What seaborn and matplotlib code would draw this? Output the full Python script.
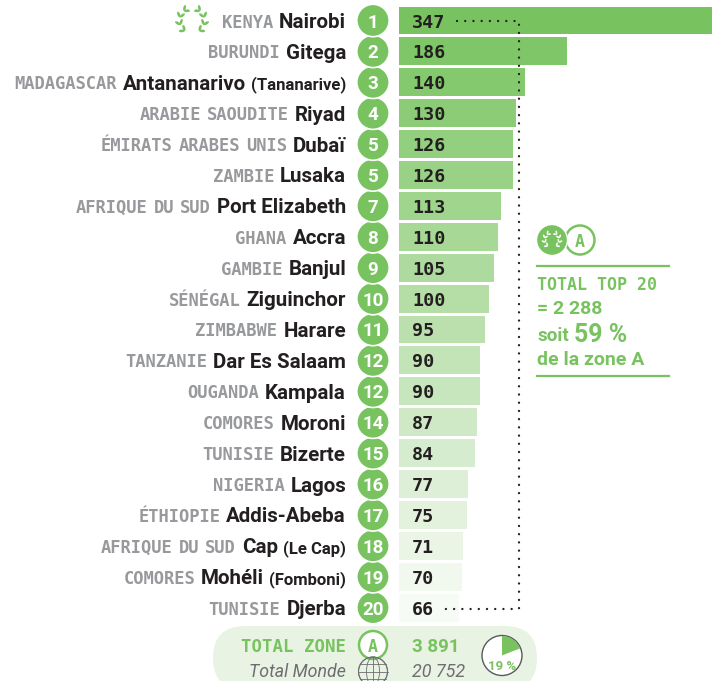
import pandas as pd
import seaborn as sns
import matplotlib.pyplot as plt
from matplotlib.patches import Circle, Ellipse, FancyBboxPatch, Wedge
import math

countries = ['KENYA', 'BURUNDI', 'MADAGASCAR', 'ARABIE SAOUDITE', 'ÉMIRATS ARABES UNIS', 'ZAMBIE',
             'AFRIQUE DU SUD', 'GHANA', 'GAMBIE', 'SÉNÉGAL', 'ZIMBABWE', 'TANZANIE', 'OUGANDA',
             'COMORES', 'TUNISIE', 'NIGERIA', 'ÉTHIOPIE', 'AFRIQUE DU SUD', 'COMORES', 'TUNISIE']
cities = ['Nairobi', 'Gitega', 'Antananarivo', 'Riyad', 'Dubaï', 'Lusaka', 'Port Elizabeth', 'Accra',
          'Banjul', 'Ziguinchor', 'Harare', 'Dar Es Salaam', 'Kampala', 'Moroni', 'Bizerte', 'Lagos',
          'Addis-Abeba', 'Cap', 'Mohéli', 'Djerba']
notes = {'Antananarivo': '(Tananarive)', 'Cap': '(Le Cap)', 'Mohéli': '(Fomboni)'}
values = [347, 186, 140, 130, 126, 126, 113, 110, 105, 100, 95, 90, 90, 87, 84, 77, 75, 71, 70, 66]
ranks = [1, 2, 3, 4, 5, 5, 7, 8, 9, 10, 11, 12, 12, 14, 15, 16, 17, 18, 19, 20]
total_zone = '3 891'
total_world = '20 752'
world_share = 19

GREEN = '#78c35f'
DARK = '#231f20'
GREY = '#98999c'
W, H = 712, 681
ROW0, ROW_H = 20.5, 30.9
SANS = 'Roboto'
MONO = 'DejaVu Sans Mono'


def row_y(i):
    return ROW0 + ROW_H * i


def draw_laurel(ax, cx, cy, r, color, leaf=6.0):
    # two branches going up from the bottom, one pair of leaves per step
    for side in (-1, 1):
        for deg in (35, 70, 105, 140):
            a = math.radians(deg)
            x = cx + side * r * math.sin(a)
            y = cy + r * math.cos(a)
            tangent = math.atan2(-math.sin(a), side * math.cos(a))
            for off in (-38, 38):
                d = tangent + math.radians(off)
                ax.add_patch(Ellipse((x + math.cos(d) * leaf / 2, y + math.sin(d) * leaf / 2),
                                     leaf, leaf * 0.45, angle=math.degrees(d),
                                     color=color, lw=0, zorder=6))


def draw_globe(ax, cx, cy, r):
    ec = '#6d6e71'
    ax.add_patch(Circle((cx, cy), r, fc='none', ec=ec, lw=0.8, zorder=5))
    for k in (0.45, 1.0):
        ax.add_patch(Ellipse((cx, cy), 2 * r * k, 2 * r, fc='none', ec=ec, lw=0.6, zorder=5))
    for d in (-0.5, 0, 0.5):
        half = r * math.sqrt(1 - d * d)
        ax.plot([cx - half, cx + half], [cy + d * r] * 2, color=ec, lw=0.6, zorder=5)
    ax.plot([cx, cx], [cy - r, cy + r], color=ec, lw=0.6, zorder=5)


fig = plt.figure(figsize=(W / 100, H / 100), dpi=100)
top = row_y(0) - ROW_H / 2
bottom = row_y(19) + ROW_H / 2
ax = fig.add_axes([399 / W, 1 - bottom / H, 313 / W, (bottom - top) / H])

df = pd.DataFrame({'city': cities, 'value': values})
colors = sns.blend_palette([GREEN, '#f7fbf5'], len(values))
sns.barplot(data=df, x='value', y='city', hue='city', palette=colors, legend=False,
            width=0.9, saturation=1, ax=ax)
ax.set_xlim(0, 347)
ax.set_axis_off()

ov = fig.add_axes([0, 0, 1, 1], zorder=3)
ov.set_xlim(0, W)
ov.set_ylim(H, 0)
ov.set_axis_off()
ov.patch.set_alpha(0)
renderer = fig.canvas.get_renderer()


def put_left_of(x, y, s, **kw):
    t = ov.text(x, y, s, ha='right', va='center_baseline', **kw)
    return x - t.get_window_extent(renderer).width


for i, city in enumerate(cities):
    y = row_y(i)
    x = 346
    if city in notes:
        x = put_left_of(x, y + 0.5, notes[city], family=SANS, weight='bold', size=12, color=DARK) - 5
    x = put_left_of(x, y, city, family=SANS, weight='bold', size=14.8, color=DARK) - 6
    # mono spaces are too wide, so the words of a country go one by one
    for word in reversed(countries[i].split(' ')):
        x = put_left_of(x, y, word, family=MONO, weight='bold', size=12.3, color=GREY) - 6
    ov.add_patch(Circle((373, y), 16.2, fc=GREEN, ec='white', lw=1.2, zorder=4 + (20 - i) * 0.01))
    ov.text(373, y, str(ranks[i]), ha='center', va='center_baseline', family=SANS, weight='bold',
            size=13.5, color='white', zorder=5)
    ov.text(412, y, str(values[i]), ha='left', va='center_baseline', family=MONO, weight='bold',
            size=13.2, color=DARK, zorder=5)

draw_laurel(ov, 192, 20.5, 12.5, GREEN)

# dotted bracket
ov.plot([457, 519, 519, 445], [row_y(0), row_y(0), row_y(19) + 1, row_y(19) + 1], color=DARK, lw=1.7,
        ls=(0, (0.01, 3.47)), dash_capstyle='round', zorder=5)

# right box
ov.add_patch(Circle((580, 240), 14.5, fc='white', ec=GREEN, lw=1.8, zorder=4))
ov.text(580, 240, 'A', ha='center', va='center_baseline', family=MONO, weight='bold', size=12,
        color=GREEN, zorder=5)
ov.add_patch(Circle((552, 240), 15.5, fc=GREEN, ec='white', lw=1, zorder=5))
draw_laurel(ov, 552, 240, 7.5, 'white', leaf=3.8)
ov.plot([537, 669], [266, 266], color=GREEN, lw=1.6)
ov.plot([537, 669], [376, 376], color=GREEN, lw=1.6)
ov.text(537, 283, 'TOTAL TOP 20', size=12, ha='left', va='center_baseline', family=MONO, weight='bold',
        color=GREEN)
ov.text(537, 307, '= 2 288', size=14, ha='left', va='center_baseline', family=SANS, weight='bold', color=GREEN)
t = ov.text(537, 334, 'soit', family=SANS, weight='bold', size=13.5, color=GREEN, ha='left', va='center_baseline')
ov.text(537 + t.get_window_extent(renderer).width + 5, 333, '59 %', family=SANS, weight='bold', size=18,
        color=GREEN, ha='left', va='center_baseline')
ov.text(537, 358, 'de la zone A', family=SANS, weight='bold', size=14, color=GREEN, ha='left',
        va='center_baseline')

# total pill
ov.add_patch(FancyBboxPatch((213, 626), 324, 64, boxstyle='round,pad=0,rounding_size=32',
                            fc='#e9f3e4', ec='none', zorder=1))
put_left_of(346, 645, 'TOTAL ZONE', family=MONO, weight='bold', size=12.5, color=GREEN)
put_left_of(346, 670, 'Total Monde', family=SANS, style='italic', size=12.8, color='#6d6e71')
ov.add_patch(Circle((373, 645), 14, fc='white', ec=GREEN, lw=1.8, zorder=4))
ov.text(373, 645, 'A', ha='center', va='center_baseline', family=MONO, weight='bold', size=12, color=GREEN, zorder=5)
draw_globe(ov, 373, 671.5, 14.5)
ov.text(412, 645, total_zone, ha='left', va='center_baseline', family=SANS, weight='bold', size=13.5, color=GREEN)
ov.text(412, 670, total_world, ha='left', va='center_baseline', family=SANS, style='italic', size=13, color='#6d6e71')

# share pie
ov.add_patch(Circle((502, 655.5), 20, fc='white', ec='#58595b', lw=1, zorder=3))
ov.add_patch(Wedge((502, 655.5), 19.5, -90, -90 + world_share * 3.6, fc=GREEN, ec='none', zorder=4))
ov.text(502, 665, f'{world_share} %', ha='center', va='center_baseline', family=SANS, weight='bold', size=9.5,
        color=GREEN, zorder=5)

plt.savefig('out.png', dpi=100)
